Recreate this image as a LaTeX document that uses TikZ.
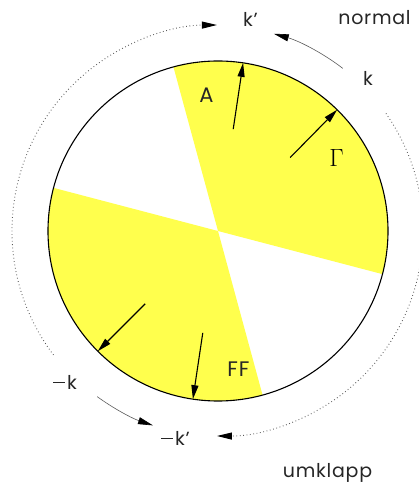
\documentclass[tikz,border=0pt]{standalone}
\usepackage{fontspec}
\setmainfont{Poppins}
\usetikzlibrary{arrows.meta}
\definecolor{fsyellow}{RGB}{255,255,77}
\definecolor{arcgray}{RGB}{90,90,90}
\newcommand{\mydash}{\raisebox{0.3em}{\rule{12pt}{1.1pt}}\hspace{2pt}}
\tikzset{
  lbl/.style={font=\fontsize{19}{19}\selectfont\addfontfeatures{LetterSpace=4}, text=black!85, inner sep=0pt, anchor=base},
  caplbl/.style={font=\fontsize{21}{21}\selectfont\addfontfeatures{LetterSpace=4}, text=black!85, inner sep=0pt, anchor=base},
  karrow/.style={line width=1.1pt, -{Triangle[length=14pt,width=7pt]}},
  outerarc/.style={line width=0.6pt, draw=arcgray, -{Triangle[length=15pt,width=7pt,color=black]}},
  dotarc/.style={line width=0.9pt, draw=arcgray, dash pattern=on 0.8pt off 2.6pt, -{Triangle[length=15pt,width=7pt,color=black]}}
}
\begin{document}
\begin{tikzpicture}[x=1pt,y=1pt]
\useasboundingbox (-218,-253) rectangle (201,231);
\coordinate (O) at (0,0);
% yellow sectors
\fill[fsyellow] (O) -- (-14.7:170) arc[start angle=-14.7, end angle=105.2, radius=170] -- cycle;
\fill[fsyellow] (O) -- (165.3:170) arc[start angle=165.3, end angle=285.2, radius=170] -- cycle;
\draw[line width=1.1pt] (O) circle[radius=170];
% radial arrows
\coordinate (a1) at (81.5:103); \coordinate (a2) at (81.5:170);
\coordinate (g1) at (45.5:103); \coordinate (g2) at (45.5:170);
\coordinate (b1) at (261.5:103); \coordinate (b2) at (261.5:170);
\coordinate (h1) at (225:103); \coordinate (h2) at (225:170);
\draw[karrow] (a1) -- (a2);
\draw[karrow] (g1) -- (g2);
\draw[karrow] (b1) -- (b2);
\draw[karrow] (h1) -- (h2);
% outer arcs
\coordinate (p1) at (217:206);
\coordinate (p2) at (35:205);
\coordinate (p3) at (52.5:205);
\coordinate (p4) at (233.9:205);
\draw[dotarc] (p1) arc[start angle=217, end angle=90.3, radius=206];
\draw[dotarc] (p2) arc[start angle=35, end angle=-90.3, radius=205];
\draw[outerarc] (p3) arc[start angle=52.5, end angle=74.2, radius=205];
\draw[outerarc] (p4) arc[start angle=233.9, end angle=251.5, radius=205];
% labels
\node[caplbl] (tA) at (-11.5,128) {A};
\node[inner sep=0pt, anchor=base, font=\fontsize{24}{24}\selectfont] (tG) at (118.5,64) {$\Gamma$};
\node[caplbl] (tFF) at (20.5,-145) {FF};
\node[lbl] (tkp) at (32.5,204) {k'};
\node[lbl] (tnormal) at (156.5,206) {normal};
\node[lbl] (tk) at (150,145) {k};
\node[lbl] (tmk) at (-153,-158) {\mydash k};
\node[lbl] (tmkp) at (-42.5,-214) {\mydash k'};
\node[lbl] (tumk) at (109.5,-246) {umklapp};
\end{tikzpicture}
\end{document}
